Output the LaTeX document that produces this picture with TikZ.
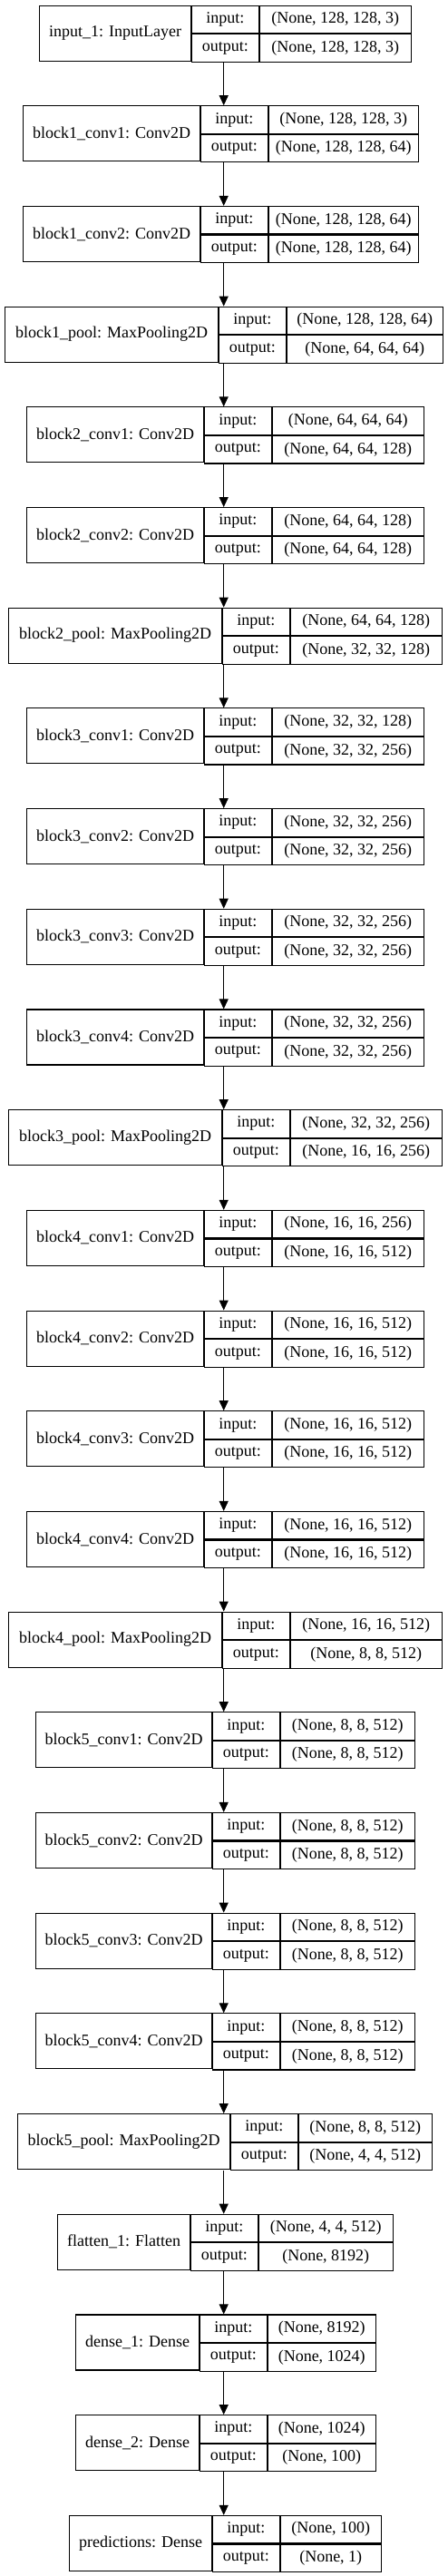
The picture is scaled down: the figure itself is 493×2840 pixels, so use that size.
\documentclass[tikz,border=0pt]{standalone}
\usepackage{fontspec}
\setmainfont{Liberation Serif}
\usepackage{tikz}
\usetikzlibrary{arrows.meta,positioning}

\begin{document}
\begin{tikzpicture}[x=1pt, y=-1pt,
  lname/.style={rectangle, draw=black, line width=1.1pt, minimum height=61pt,
    inner sep=0pt, anchor=north west, font=\fontsize{18}{20}\selectfont},
  lkey/.style={rectangle, draw=black, line width=1.1pt, minimum width=73.5pt,
    minimum height=30.5pt, inner sep=0pt, font=\fontsize{18}{20}\selectfont},
  lval/.style={rectangle, draw=black, line width=1.1pt,
    minimum height=30.5pt, inner sep=0pt, font=\fontsize{18}{20}\selectfont},
  flow/.style={-{Triangle[length=11pt,width=10pt]}, line width=1.1pt}
]
\useasboundingbox (0,0) rectangle (493,2840);
\coordinate (ax) at (246.7,0);

%─── INPUT ───────────────────────────────────────────────────────────────────
\node[lname, minimum width=167pt] (IN) at (43,5.5) {input\_1: InputLayer};
\node[lkey, right=0pt of IN.north east, anchor=north west] (INi) {input:};
\node[lkey, below=0pt of INi, anchor=north] (INo) {output:};
\node[lval, minimum width=167pt, right=0pt of INi, anchor=west] (INvi) {(None, 128, 128, 3)};
\node[lval, minimum width=167pt, below=0pt of INvi, anchor=north] (INvo) {(None, 128, 128, 3)};

%─── BLOCK 1 ─────────────────────────────────────────────────────────────────
\node[lname, minimum width=195pt] (B1C1) at (25,116.2) {block1\_conv1: Conv2D};
\node[lkey, right=0pt of B1C1.north east, anchor=north west] (B1C1i) {input:};
\node[lkey, below=0pt of B1C1i, anchor=north] (B1C1o) {output:};
\node[lval, minimum width=165pt, right=0pt of B1C1i, anchor=west] (B1C1vi) {(None, 128, 128, 3)};
\node[lval, minimum width=165pt, below=0pt of B1C1vi, anchor=north] (B1C1vo) {(None, 128, 128, 64)};

\node[lname, minimum width=195pt] (B1C2) at (25,226.9) {block1\_conv2: Conv2D};
\node[lkey, right=0pt of B1C2.north east, anchor=north west] (B1C2i) {input:};
\node[lkey, below=0pt of B1C2i, anchor=north] (B1C2o) {output:};
\node[lval, minimum width=165pt, right=0pt of B1C2i, anchor=west] (B1C2vi) {(None, 128, 128, 64)};
\node[lval, minimum width=165pt, below=0pt of B1C2vi, anchor=north] (B1C2vo) {(None, 128, 128, 64)};

\node[lname, minimum width=235pt] (B1P) at (5,337.6) {block1\_pool: MaxPooling2D};
\node[lkey, right=0pt of B1P.north east, anchor=north west] (B1Pi) {input:};
\node[lkey, below=0pt of B1Pi, anchor=north] (B1Po) {output:};
\node[lval, minimum width=172pt, right=0pt of B1Pi, anchor=west] (B1Pvi) {(None, 128, 128, 64)};
\node[lval, minimum width=172pt, below=0pt of B1Pvi, anchor=north] (B1Pvo) {(None, 64, 64, 64)};

%─── BLOCK 2 ─────────────────────────────────────────────────────────────────
\node[lname, minimum width=195pt] (B2C1) at (29,448.3) {block2\_conv1: Conv2D};
\node[lkey, right=0pt of B2C1.north east, anchor=north west] (B2C1i) {input:};
\node[lkey, below=0pt of B2C1i, anchor=north] (B2C1o) {output:};
\node[lval, minimum width=167pt, right=0pt of B2C1i, anchor=west] (B2C1vi) {(None, 64, 64, 64)};
\node[lval, minimum width=167pt, below=0pt of B2C1vi, anchor=north] (B2C1vo) {(None, 64, 64, 128)};

\node[lname, minimum width=195pt] (B2C2) at (29,559.0) {block2\_conv2: Conv2D};
\node[lkey, right=0pt of B2C2.north east, anchor=north west] (B2C2i) {input:};
\node[lkey, below=0pt of B2C2i, anchor=north] (B2C2o) {output:};
\node[lval, minimum width=167pt, right=0pt of B2C2i, anchor=west] (B2C2vi) {(None, 64, 64, 128)};
\node[lval, minimum width=167pt, below=0pt of B2C2vi, anchor=north] (B2C2vo) {(None, 64, 64, 128)};

\node[lname, minimum width=235pt] (B2P) at (9,669.6) {block2\_pool: MaxPooling2D};
\node[lkey, right=0pt of B2P.north east, anchor=north west] (B2Pi) {input:};
\node[lkey, below=0pt of B2Pi, anchor=north] (B2Po) {output:};
\node[lval, minimum width=167pt, right=0pt of B2Pi, anchor=west] (B2Pvi) {(None, 64, 64, 128)};
\node[lval, minimum width=167pt, below=0pt of B2Pvi, anchor=north] (B2Pvo) {(None, 32, 32, 128)};

%─── BLOCK 3 ─────────────────────────────────────────────────────────────────
\node[lname, minimum width=195pt] (B3C1) at (29,780.3) {block3\_conv1: Conv2D};
\node[lkey, right=0pt of B3C1.north east, anchor=north west] (B3C1i) {input:};
\node[lkey, below=0pt of B3C1i, anchor=north] (B3C1o) {output:};
\node[lval, minimum width=167pt, right=0pt of B3C1i, anchor=west] (B3C1vi) {(None, 32, 32, 128)};
\node[lval, minimum width=167pt, below=0pt of B3C1vi, anchor=north] (B3C1vo) {(None, 32, 32, 256)};

\node[lname, minimum width=195pt] (B3C2) at (29,891.0) {block3\_conv2: Conv2D};
\node[lkey, right=0pt of B3C2.north east, anchor=north west] (B3C2i) {input:};
\node[lkey, below=0pt of B3C2i, anchor=north] (B3C2o) {output:};
\node[lval, minimum width=167pt, right=0pt of B3C2i, anchor=west] (B3C2vi) {(None, 32, 32, 256)};
\node[lval, minimum width=167pt, below=0pt of B3C2vi, anchor=north] (B3C2vo) {(None, 32, 32, 256)};

\node[lname, minimum width=195pt] (B3C3) at (29,1001.7) {block3\_conv3: Conv2D};
\node[lkey, right=0pt of B3C3.north east, anchor=north west] (B3C3i) {input:};
\node[lkey, below=0pt of B3C3i, anchor=north] (B3C3o) {output:};
\node[lval, minimum width=167pt, right=0pt of B3C3i, anchor=west] (B3C3vi) {(None, 32, 32, 256)};
\node[lval, minimum width=167pt, below=0pt of B3C3vi, anchor=north] (B3C3vo) {(None, 32, 32, 256)};

\node[lname, minimum width=195pt] (B3C4) at (29,1112.4) {block3\_conv4: Conv2D};
\node[lkey, right=0pt of B3C4.north east, anchor=north west] (B3C4i) {input:};
\node[lkey, below=0pt of B3C4i, anchor=north] (B3C4o) {output:};
\node[lval, minimum width=167pt, right=0pt of B3C4i, anchor=west] (B3C4vi) {(None, 32, 32, 256)};
\node[lval, minimum width=167pt, below=0pt of B3C4vi, anchor=north] (B3C4vo) {(None, 32, 32, 256)};

\node[lname, minimum width=235pt] (B3P) at (9,1223.1) {block3\_pool: MaxPooling2D};
\node[lkey, right=0pt of B3P.north east, anchor=north west] (B3Pi) {input:};
\node[lkey, below=0pt of B3Pi, anchor=north] (B3Po) {output:};
\node[lval, minimum width=167pt, right=0pt of B3Pi, anchor=west] (B3Pvi) {(None, 32, 32, 256)};
\node[lval, minimum width=167pt, below=0pt of B3Pvi, anchor=north] (B3Pvo) {(None, 16, 16, 256)};

%─── BLOCK 4 ─────────────────────────────────────────────────────────────────
\node[lname, minimum width=195pt] (B4C1) at (29,1333.8) {block4\_conv1: Conv2D};
\node[lkey, right=0pt of B4C1.north east, anchor=north west] (B4C1i) {input:};
\node[lkey, below=0pt of B4C1i, anchor=north] (B4C1o) {output:};
\node[lval, minimum width=167pt, right=0pt of B4C1i, anchor=west] (B4C1vi) {(None, 16, 16, 256)};
\node[lval, minimum width=167pt, below=0pt of B4C1vi, anchor=north] (B4C1vo) {(None, 16, 16, 512)};

\node[lname, minimum width=195pt] (B4C2) at (29,1444.5) {block4\_conv2: Conv2D};
\node[lkey, right=0pt of B4C2.north east, anchor=north west] (B4C2i) {input:};
\node[lkey, below=0pt of B4C2i, anchor=north] (B4C2o) {output:};
\node[lval, minimum width=167pt, right=0pt of B4C2i, anchor=west] (B4C2vi) {(None, 16, 16, 512)};
\node[lval, minimum width=167pt, below=0pt of B4C2vi, anchor=north] (B4C2vo) {(None, 16, 16, 512)};

\node[lname, minimum width=195pt] (B4C3) at (29,1555.2) {block4\_conv3: Conv2D};
\node[lkey, right=0pt of B4C3.north east, anchor=north west] (B4C3i) {input:};
\node[lkey, below=0pt of B4C3i, anchor=north] (B4C3o) {output:};
\node[lval, minimum width=167pt, right=0pt of B4C3i, anchor=west] (B4C3vi) {(None, 16, 16, 512)};
\node[lval, minimum width=167pt, below=0pt of B4C3vi, anchor=north] (B4C3vo) {(None, 16, 16, 512)};

\node[lname, minimum width=195pt] (B4C4) at (29,1665.9) {block4\_conv4: Conv2D};
\node[lkey, right=0pt of B4C4.north east, anchor=north west] (B4C4i) {input:};
\node[lkey, below=0pt of B4C4i, anchor=north] (B4C4o) {output:};
\node[lval, minimum width=167pt, right=0pt of B4C4i, anchor=west] (B4C4vi) {(None, 16, 16, 512)};
\node[lval, minimum width=167pt, below=0pt of B4C4vi, anchor=north] (B4C4vo) {(None, 16, 16, 512)};

\node[lname, minimum width=235pt] (B4P) at (9,1776.5) {block4\_pool: MaxPooling2D};
\node[lkey, right=0pt of B4P.north east, anchor=north west] (B4Pi) {input:};
\node[lkey, below=0pt of B4Pi, anchor=north] (B4Po) {output:};
\node[lval, minimum width=167pt, right=0pt of B4Pi, anchor=west] (B4Pvi) {(None, 16, 16, 512)};
\node[lval, minimum width=167pt, below=0pt of B4Pvi, anchor=north] (B4Pvo) {(None, 8, 8, 512)};

%─── BLOCK 5 ─────────────────────────────────────────────────────────────────
\node[lname, minimum width=194pt] (B5C1) at (39,1887.2) {block5\_conv1: Conv2D};
\node[lkey, right=0pt of B5C1.north east, anchor=north west] (B5C1i) {input:};
\node[lkey, below=0pt of B5C1i, anchor=north] (B5C1o) {output:};
\node[lval, minimum width=148pt, right=0pt of B5C1i, anchor=west] (B5C1vi) {(None, 8, 8, 512)};
\node[lval, minimum width=148pt, below=0pt of B5C1vi, anchor=north] (B5C1vo) {(None, 8, 8, 512)};

\node[lname, minimum width=194pt] (B5C2) at (39,1997.9) {block5\_conv2: Conv2D};
\node[lkey, right=0pt of B5C2.north east, anchor=north west] (B5C2i) {input:};
\node[lkey, below=0pt of B5C2i, anchor=north] (B5C2o) {output:};
\node[lval, minimum width=148pt, right=0pt of B5C2i, anchor=west] (B5C2vi) {(None, 8, 8, 512)};
\node[lval, minimum width=148pt, below=0pt of B5C2vi, anchor=north] (B5C2vo) {(None, 8, 8, 512)};

\node[lname, minimum width=194pt] (B5C3) at (39,2108.6) {block5\_conv3: Conv2D};
\node[lkey, right=0pt of B5C3.north east, anchor=north west] (B5C3i) {input:};
\node[lkey, below=0pt of B5C3i, anchor=north] (B5C3o) {output:};
\node[lval, minimum width=148pt, right=0pt of B5C3i, anchor=west] (B5C3vi) {(None, 8, 8, 512)};
\node[lval, minimum width=148pt, below=0pt of B5C3vi, anchor=north] (B5C3vo) {(None, 8, 8, 512)};

\node[lname, minimum width=194pt] (B5C4) at (39,2219.3) {block5\_conv4: Conv2D};
\node[lkey, right=0pt of B5C4.north east, anchor=north west] (B5C4i) {input:};
\node[lkey, below=0pt of B5C4i, anchor=north] (B5C4o) {output:};
\node[lval, minimum width=148pt, right=0pt of B5C4i, anchor=west] (B5C4vi) {(None, 8, 8, 512)};
\node[lval, minimum width=148pt, below=0pt of B5C4vi, anchor=north] (B5C4vo) {(None, 8, 8, 512)};

\node[lname, minimum width=234pt] (B5P) at (19,2330.0) {block5\_pool: MaxPooling2D};
\node[lkey, right=0pt of B5P.north east, anchor=north west] (B5Pi) {input:};
\node[lkey, below=0pt of B5Pi, anchor=north] (B5Po) {output:};
\node[lval, minimum width=147pt, right=0pt of B5Pi, anchor=west] (B5Pvi) {(None, 8, 8, 512)};
\node[lval, minimum width=147pt, below=0pt of B5Pvi, anchor=north] (B5Pvo) {(None, 4, 4, 512)};

%─── HEAD ────────────────────────────────────────────────────────────────────
\node[lname, minimum width=146pt] (FL) at (63,2440.7) {flatten\_1: Flatten};
\node[lkey, right=0pt of FL.north east, anchor=north west] (FLi) {input:};
\node[lkey, below=0pt of FLi, anchor=north] (FLo) {output:};
\node[lval, minimum width=148pt, right=0pt of FLi, anchor=west] (FLvi) {(None, 4, 4, 512)};
\node[lval, minimum width=148pt, below=0pt of FLvi, anchor=north] (FLvo) {(None, 8192)};

\node[lname, minimum width=136pt] (D1) at (83,2551.4) {dense\_1: Dense};
\node[lkey, right=0pt of D1.north east, anchor=north west] (D1i) {input:};
\node[lkey, below=0pt of D1i, anchor=north] (D1o) {output:};
\node[lval, minimum width=119pt, right=0pt of D1i, anchor=west] (D1vi) {(None, 8192)};
\node[lval, minimum width=119pt, below=0pt of D1vi, anchor=north] (D1vo) {(None, 1024)};

\node[lname, minimum width=136pt] (D2) at (83,2662.1) {dense\_2: Dense};
\node[lkey, right=0pt of D2.north east, anchor=north west] (D2i) {input:};
\node[lkey, below=0pt of D2i, anchor=north] (D2o) {output:};
\node[lval, minimum width=119pt, right=0pt of D2i, anchor=west] (D2vi) {(None, 1024)};
\node[lval, minimum width=119pt, below=0pt of D2vi, anchor=north] (D2vo) {(None, 100)};

\node[lname, minimum width=157pt] (PR) at (76,2772.8) {predictions: Dense};
\node[lkey, right=0pt of PR.north east, anchor=north west] (PRi) {input:};
\node[lkey, below=0pt of PRi, anchor=north] (PRo) {output:};
\node[lval, minimum width=111pt, right=0pt of PRi, anchor=west] (PRvi) {(None, 100)};
\node[lval, minimum width=111pt, below=0pt of PRvi, anchor=north] (PRvo) {(None, 1)};

%─── EDGES ───────────────────────────────────────────────────────────────────
\draw[flow] (INo.south -| ax)   -- (B1C1i.north -| ax);
\draw[flow] (B1C1o.south -| ax) -- (B1C2i.north -| ax);
\draw[flow] (B1C2o.south -| ax) -- (B1Pi.north -| ax);
\draw[flow] (B1Po.south -| ax)  -- (B2C1i.north -| ax);
\draw[flow] (B2C1o.south -| ax) -- (B2C2i.north -| ax);
\draw[flow] (B2C2o.south -| ax) -- (B2Pi.north -| ax);
\draw[flow] (B2Po.south -| ax)  -- (B3C1i.north -| ax);
\draw[flow] (B3C1o.south -| ax) -- (B3C2i.north -| ax);
\draw[flow] (B3C2o.south -| ax) -- (B3C3i.north -| ax);
\draw[flow] (B3C3o.south -| ax) -- (B3C4i.north -| ax);
\draw[flow] (B3C4o.south -| ax) -- (B3Pi.north -| ax);
\draw[flow] (B3Po.south -| ax)  -- (B4C1i.north -| ax);
\draw[flow] (B4C1o.south -| ax) -- (B4C2i.north -| ax);
\draw[flow] (B4C2o.south -| ax) -- (B4C3i.north -| ax);
\draw[flow] (B4C3o.south -| ax) -- (B4C4i.north -| ax);
\draw[flow] (B4C4o.south -| ax) -- (B4Pi.north -| ax);
\draw[flow] (B4Po.south -| ax)  -- (B5C1i.north -| ax);
\draw[flow] (B5C1o.south -| ax) -- (B5C2i.north -| ax);
\draw[flow] (B5C2o.south -| ax) -- (B5C3i.north -| ax);
\draw[flow] (B5C3o.south -| ax) -- (B5C4i.north -| ax);
\draw[flow] (B5C4o.south -| ax) -- (B5Pi.north -| ax);
\draw[flow] (B5Po.south -| ax)  -- (FLi.north -| ax);
\draw[flow] (FLo.south -| ax)   -- (D1i.north -| ax);
\draw[flow] (D1o.south -| ax)   -- (D2i.north -| ax);
\draw[flow] (D2o.south -| ax)   -- (PRi.north -| ax);

\end{tikzpicture}
\end{document}
